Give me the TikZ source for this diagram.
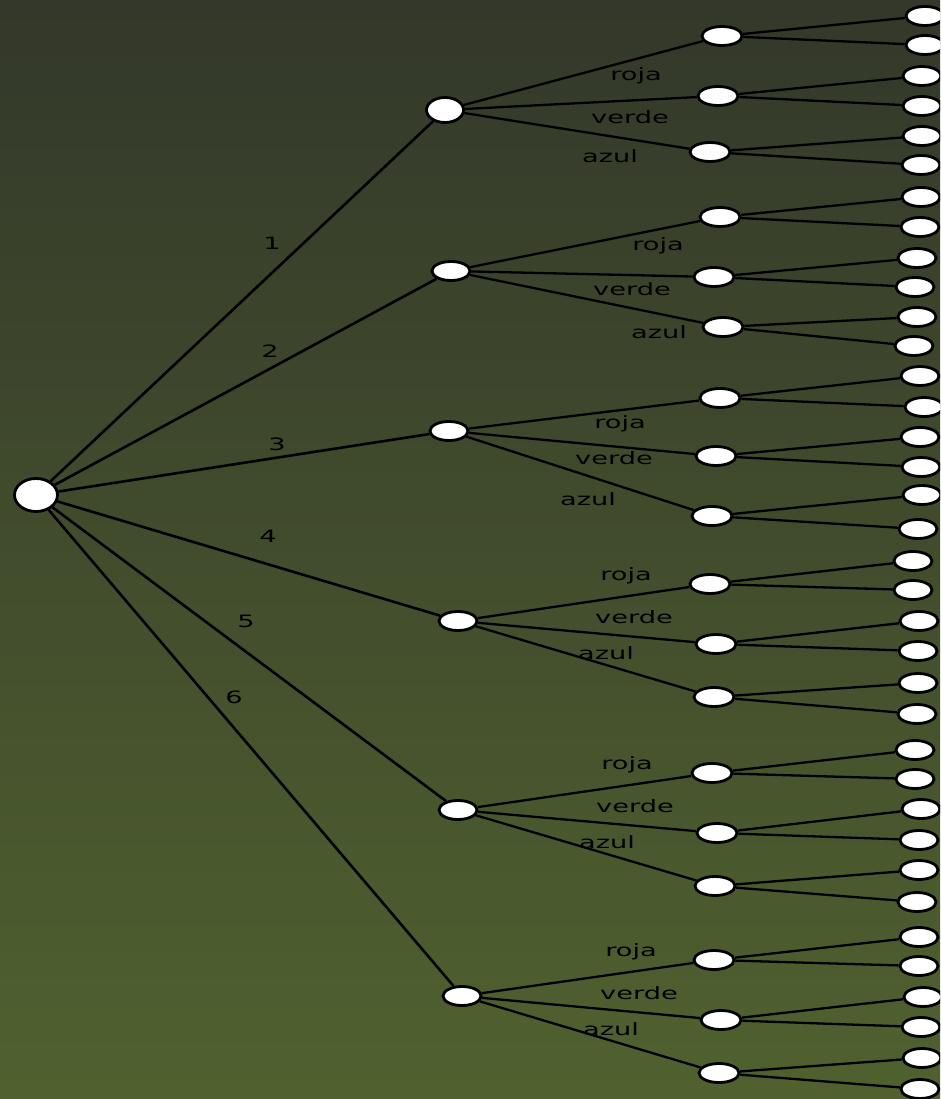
\documentclass[tikz,border=0pt]{standalone}
\usepackage{fontspec}
\setmainfont{DejaVu Sans}
\newfontfamily\lblfont[FakeStretch=1.6]{DejaVu Sans}
\usetikzlibrary{shapes.geometric}
\definecolor{bgtop}{RGB}{51,56,42}
\definecolor{bgbot}{RGB}{80,97,47}
\tikzset{
  nd/.style={ellipse, draw=black, fill=white, line width=2.8pt, inner sep=0pt},
  rootnd/.style={nd, minimum width=43pt, minimum height=33pt},
  firstnd/.style={nd, minimum width=37pt, minimum height=25pt},
  lvone/.style={nd, minimum width=38pt, minimum height=19pt},
  lvtwo/.style={nd, minimum width=40pt, minimum height=19pt},
  leafnd/.style={nd, minimum width=38pt, minimum height=19pt},
  edge/.style={draw=black, line width=2.3pt},
  trunk/.style={draw=black, line width=2.6pt},
  lbl/.style={font=\lblfont\fontsize{17}{17}\selectfont, text=black, anchor=base, inner sep=0pt}
}
\begin{document}
\begin{tikzpicture}[x=1pt,y=-1pt]
\useasboundingbox (0,0) rectangle (940,1099);
\clip (0,0) rectangle (940,1099);
\shade[top color=bgtop, bottom color=bgbot] (0,0) rectangle (940,1099);

% root and first level
\node[rootnd] (r) at (36,495) {};
\node[firstnd] (a1) at (445,110) {};
\foreach \n/\x/\y in {a2/451/271, a3/449/431, a4/458/621, a5/458/810, a6/462/996}
  \node[lvone] (\n) at (\x,\y) {};

% second level
\foreach \n/\x/\y in {
  b11/722/36, b12/718/96, b13/710/152,
  b21/720/217, b22/714/277, b23/723/327,
  b31/720/398, b32/716/456, b33/712/516,
  b41/710/584, b42/716/644, b43/714/697,
  b51/712/773, b52/717/833, b53/715/886,
  b61/714/960, b62/721/1020, b63/719/1073}
  \node[lvtwo] (\n) at (\x,\y) {};

% leaves
\foreach \n/\x/\y in {
  c111/925/16, c112/925/45, c121/922/76, c122/922/106, c131/922/136, c132/921/165,
  c211/921/197, c212/920/227, c221/917/258, c222/915/287, c231/917/317, c232/914/346,
  c311/920/376, c312/924/407, c321/920/437, c322/921/467, c331/922/495, c332/918/529,
  c411/913/561, c412/913/590, c421/919/621, c422/918/651, c431/918/683, c432/917/714,
  c511/915/750, c512/915/779, c521/921/809, c522/919/840, c531/919/870, c532/917/902,
  c611/919/937, c612/919/966, c621/923/997, c622/921/1027, c631/922/1058, c632/920/1089}
  \node[leafnd] (\n) at (\x,\y) {};

% connectors
\foreach \g in {1,...,6} {
  \draw[trunk] (r) -- (a\g);
  \foreach \j in {1,2,3} {
    \draw[edge] (a\g) -- (b\g\j);
    \foreach \k in {1,2}
      \draw[edge] (b\g\j) -- (c\g\j\k);
  }
}

% labels
\foreach \n/\x/\y/\t in {
  d1/272/249/1, d2/270/357/2, d3/277/450/3, d4/268/542/4, d5/246/627/5, d6/234/703/6,
  l11/636/81/roja, l12/630/124/verde, l13/610/163/azul,
  l21/658/251/roja, l22/632/295/verde, l23/659/338/azul,
  l31/620/428/roja, l32/614/464/verde, l33/588/505/azul,
  l41/626/580/roja, l42/634/623/verde, l43/606/659/azul,
  l51/627/769/roja, l52/635/812/verde, l53/607/848/azul,
  l61/631/956/roja, l62/639/999/verde, l63/611/1035/azul}
  \node[lbl] (\n) at (\x,\y) {\t};
\end{tikzpicture}
\end{document}
